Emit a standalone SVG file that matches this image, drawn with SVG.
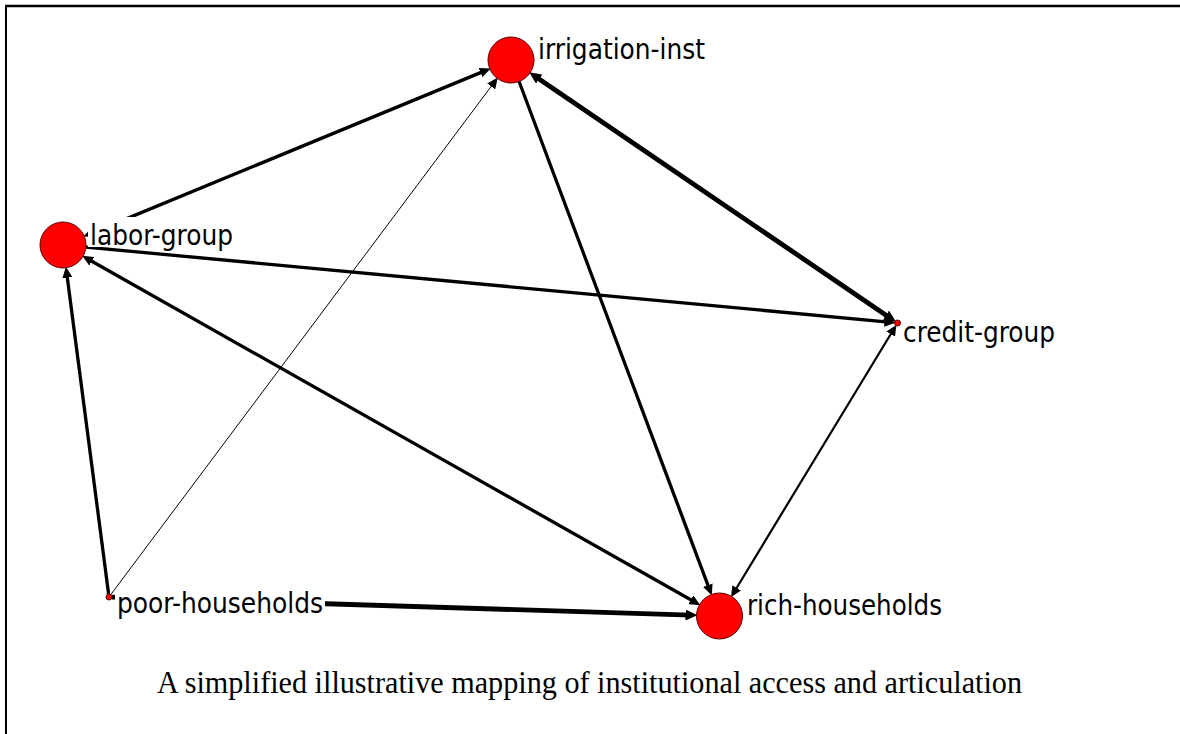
<svg xmlns="http://www.w3.org/2000/svg" width="1180" height="734" viewBox="0 0 1180 734">
  <style>
    .edge { stroke: #000; fill: none; stroke-linecap: butt; }
    .node { fill: #ff0000; stroke: #5a0000; stroke-width: 1; }
    .label { font-family: "DejaVu Sans", "Liberation Sans", sans-serif; font-size: 27.5px; fill: #000; }
    .labelbg { fill: #fff; stroke: none; }
    .caption { font-family: "Liberation Serif", "Times New Roman", serif; font-size: 31px; fill: #000; }
  </style>
  <defs>
    <marker id="arrow" viewBox="0 0 11 10" markerWidth="11" markerHeight="10" refX="4" refY="5" markerUnits="userSpaceOnUse" orient="auto-start-reverse">
      <path d="M0,0 L11,5 L0,10 z" fill="#000"/>
    </marker>
    <marker id="arrow-lg" viewBox="0 0 12 11" markerWidth="12" markerHeight="11" refX="5" refY="5.5" markerUnits="userSpaceOnUse" orient="auto-start-reverse">
      <path d="M0,0 L12,5.5 L0,11 z" fill="#000"/>
    </marker>
  </defs>

  <rect x="0" y="0" width="1180" height="734" fill="#fff"/>

  <!-- frame: top and left rules -->
  <line x1="5" y1="6" x2="1180" y2="6" stroke="#000" stroke-width="2.3"/>
  <line x1="6" y1="5" x2="6" y2="734" stroke="#000" stroke-width="2"/>

  <!-- connectors -->
  <g id="edges">
    <!-- labor-group <-> irrigation-inst -->
    <line class="edge" x1="89.8" y1="233.9" x2="484.2" y2="71.1" stroke-width="3.3" marker-start="url(#arrow)" marker-end="url(#arrow)"/>
    <!-- poor-households -> irrigation-inst -->
    <line class="edge" x1="110.8" y1="594.6" x2="493.6" y2="83.2" stroke-width="1" marker-end="url(#arrow)"/>
    <!-- irrigation-inst -> rich-households -->
    <line class="edge" x1="519.1" y1="81.5" x2="709.3" y2="588.9" stroke-width="3.3" marker-end="url(#arrow)"/>
    <!-- irrigation-inst <-> credit-group -->
    <line class="edge" x1="535.0" y1="76.3" x2="890.1" y2="317.9" stroke-width="4.8" marker-start="url(#arrow-lg)" marker-end="url(#arrow-lg)"/>
    <!-- labor-group -> credit-group -->
    <line class="edge" x1="85.9" y1="247.1" x2="888.5" y2="322.1" stroke-width="3.3" marker-end="url(#arrow)"/>
    <!-- labor-group <-> rich-households -->
    <line class="edge" x1="88.3" y1="259.3" x2="694.3" y2="601.7" stroke-width="3.3" marker-start="url(#arrow)" marker-end="url(#arrow)"/>
    <!-- poor-households -> labor-group -->
    <line class="edge" x1="108.6" y1="594.0" x2="66.8" y2="273.7" stroke-width="3.3" marker-end="url(#arrow)"/>
    <!-- poor-households -> rich-households -->
    <line class="edge" x1="112" y1="597.1" x2="690.5" y2="615.1" stroke-width="4.8" marker-end="url(#arrow-lg)"/>
    <!-- credit-group <-> rich-households -->
    <line class="edge" x1="892.8" y1="330.7" x2="734.6" y2="591.2" stroke-width="2.2" marker-start="url(#arrow)" marker-end="url(#arrow)"/>
  </g>

  <!-- nodes -->
  <g id="irrigation-inst">
    <circle class="node" cx="511" cy="60" r="23"/>
    <text class="label" x="538" y="59" textLength="167" lengthAdjust="spacingAndGlyphs">irrigation-inst</text>
  </g>
  <g id="labor-group">
    <rect class="labelbg" x="88" y="217" width="148" height="30"/>
    <circle class="node" cx="63" cy="245" r="23"/>
    <text class="label" x="90" y="245" textLength="143" lengthAdjust="spacingAndGlyphs">labor-group</text>
  </g>
  <g id="credit-group">
    <circle class="node" cx="897.5" cy="323" r="3"/>
    <text class="label" x="903" y="342" textLength="152" lengthAdjust="spacingAndGlyphs">credit-group</text>
  </g>
  <g id="poor-households">
    <rect class="labelbg" x="115" y="590" width="210" height="28"/>
    <circle class="node" cx="109" cy="597" r="3"/>
    <text class="label" x="117" y="613" textLength="206" lengthAdjust="spacingAndGlyphs">poor-households</text>
  </g>
  <g id="rich-households">
    <circle class="node" cx="719.5" cy="616" r="23"/>
    <text class="label" x="747" y="615" textLength="195" lengthAdjust="spacingAndGlyphs">rich-households</text>
  </g>

  <!-- caption -->
  <text class="caption" x="589.5" y="693" text-anchor="middle" textLength="865" lengthAdjust="spacingAndGlyphs">A simplified illustrative mapping of institutional access and articulation</text>
</svg>
